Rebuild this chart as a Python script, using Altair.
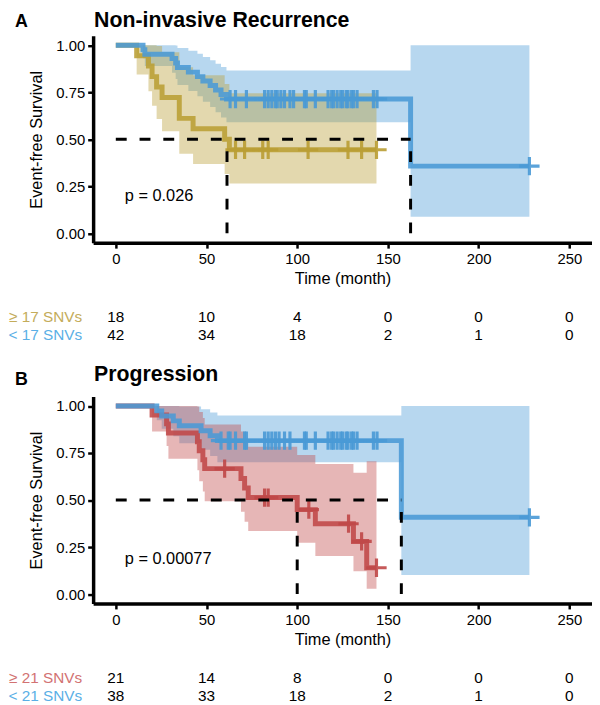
import altair as alt
import pandas as pd

FONT = "Liberation Sans"

# ---------------- Panel A : Non-invasive Recurrence ----------------
a_hi_time = [0, 11.5, 18, 20, 22.5, 25.5, 35, 42.6, 60, 62.6, 143.7]
a_hi_surv = [1.0, 0.944, 0.889, 0.833, 0.778, 0.722, 0.611, 0.556, 0.5, 0.444, 0.444]
a_hi_lower = [1.0, 0.844, 0.755, 0.678, 0.608, 0.542, 0.423, 0.368, 0.315, 0.265, 0.265]
a_hi_upper = [1.0, 1.0, 1.0, 1.0, 0.996, 0.962, 0.883, 0.840, 0.794, 0.745, 0.745]
a_hi_cens_time = [66, 71, 81, 84, 106, 128, 135.5, 143.7]
a_hi_cens_surv = [0.444, 0.444, 0.444, 0.444, 0.444, 0.444, 0.444, 0.444]

a_lo_time = [0, 15, 16, 31, 33, 34, 40, 45, 48, 52, 55, 58, 61, 162.5, 228]
a_lo_surv = [1.0, 0.976, 0.952, 0.929, 0.905, 0.881, 0.857, 0.833, 0.810, 0.786, 0.762, 0.738, 0.714, 0.357, 0.357]
a_lo_lower = [1.0, 0.931, 0.890, 0.854, 0.820, 0.788, 0.757, 0.728, 0.699, 0.671, 0.643, 0.616, 0.590, 0.088, 0.088]
a_lo_upper = [1.0, 1.0, 1.0, 1.0, 0.998, 0.985, 0.970, 0.954, 0.938, 0.920, 0.902, 0.884, 0.865, 1.0, 1.0]
a_lo_cens_time = [63, 66, 72, 82, 84, 86, 88, 89, 91, 93, 96, 98, 104, 105, 110, 117, 119, 120,
                  122, 124, 125, 127, 128, 130, 131, 133, 142, 144, 228]
a_lo_cens_surv = [0.714, 0.714, 0.714, 0.714, 0.714, 0.714, 0.714, 0.714, 0.714, 0.714, 0.714,
                  0.714, 0.714, 0.714, 0.714, 0.714, 0.714, 0.714, 0.714, 0.714, 0.714, 0.714,
                  0.714, 0.714, 0.714, 0.714, 0.714, 0.714, 0.357]
a_medians = [61.3, 162.5]
a_p = "p = 0.026"
a_title = "Non-invasive Recurrence"
a_labels = ["\u2265 17 SNVs", "< 17 SNVs"]
a_risk_hi = [18, 10, 4, 0, 0, 0]
a_risk_lo = [42, 34, 18, 2, 1, 0]

# ---------------- Panel B : Progression ----------------
b_hi_time = [0, 20, 28, 29, 45, 46, 48, 49, 69, 71, 73, 100, 110, 131, 138.3, 143.7]
b_hi_surv = [1.0, 0.952, 0.905, 0.857, 0.810, 0.762, 0.714, 0.667, 0.615, 0.564, 0.513, 0.449,
             0.374, 0.280, 0.140, 0.140]
b_hi_lower = [1.0, 0.865, 0.788, 0.720, 0.658, 0.600, 0.545, 0.493, 0.438, 0.385, 0.335, 0.273,
              0.203, 0.122, 0.028, 0.028]
b_hi_upper = [1.0, 1.0, 1.0, 1.0, 0.997, 0.968, 0.936, 0.902, 0.865, 0.826, 0.784, 0.739,
              0.691, 0.645, 0.706, 0.706]
b_hi_cens_time = [60, 82, 84, 106.4, 128.3, 135.5, 143.7]
b_hi_cens_surv = [0.667, 0.513, 0.513, 0.449, 0.374, 0.280, 0.140]

b_lo_time = [0, 22.6, 25.3, 31.7, 35, 47, 52, 56, 157.4, 228]
b_lo_surv = [1.0, 0.974, 0.947, 0.921, 0.895, 0.868, 0.842, 0.816, 0.408, 0.408]
b_lo_lower = [1.0, 0.924, 0.879, 0.839, 0.802, 0.767, 0.734, 0.701, 0.101, 0.101]
b_lo_upper = [1.0, 1.0, 1.0, 1.0, 0.998, 0.983, 0.966, 0.949, 1.0, 1.0]
b_lo_cens_time = [58, 62, 63, 66, 71, 72, 82, 84, 86, 88, 90, 93, 96, 104, 105, 110, 117, 119,
                  120, 122, 124, 125, 127, 128, 130, 131, 133, 142, 144, 228]
b_lo_cens_surv = [0.816, 0.816, 0.816, 0.816, 0.816, 0.816, 0.816, 0.816, 0.816, 0.816, 0.816,
                  0.816, 0.816, 0.816, 0.816, 0.816, 0.816, 0.816, 0.816, 0.816, 0.816, 0.816,
                  0.816, 0.816, 0.816, 0.816, 0.816, 0.816, 0.816, 0.408]
b_medians = [100, 157.4]
b_p = "p = 0.00077"
b_title = "Progression"
b_labels = ["\u2265 21 SNVs", "< 21 SNVs"]
b_risk_hi = [21, 14, 8, 0, 0, 0]
b_risk_lo = [38, 33, 18, 2, 1, 0]

risk_times = [0, 50, 100, 150, 200, 250]
x_ticks = [0, 50, 100, 150, 200, 250]
y_ticks = [0, 0.25, 0.5, 0.75, 1.0]

YELLOW = "#BA9E34"
BLUE = "#4A9AD6"
RED = "#C04848"
YELLOW_TXT = "#C4AC5A"
BLUE_TXT = "#5AAFE6"
RED_TXT = "#D27272"

W, H = 504, 209

xscale = alt.Scale(domain=[-12.5, 262.5], nice=False, zero=False)
yscale = alt.Scale(domain=[-0.05, 1.05], nice=False, zero=False)
xaxis = alt.Axis(values=x_ticks, title="Time (month)", labelPadding=3.5, titlePadding=4)
yaxis = alt.Axis(values=y_ticks, format=".2f", title="Event-free Survival",
                 labelPadding=3, titlePadding=11)


def X(field):
    return alt.X(field, type="quantitative", scale=xscale, axis=xaxis)


def Y(field):
    return alt.Y(field, type="quantitative", scale=yscale, axis=yaxis)


def panel(hi, lo, hi_c, lo_c, medians, title, title_y, letter, letter_y, p_text, p_y,
          labels, risk_hi, risk_lo, hi_color, hi_txt):
    d_hi = pd.DataFrame({"time": hi[0], "surv": hi[1], "lower": hi[2], "upper": hi[3]})
    d_lo = pd.DataFrame({"time": lo[0], "surv": lo[1], "lower": lo[2], "upper": lo[3]})
    c_hi = pd.DataFrame({"time": hi_c[0], "surv": hi_c[1]})
    c_lo = pd.DataFrame({"time": lo_c[0], "surv": lo_c[1]})

    layers = []
    for d, col in [(d_lo, BLUE), (d_hi, hi_color)]:
        layers.append(alt.Chart(d).mark_area(interpolate="step-after", opacity=0.4, color=col)
                      .encode(x=X("time"), y=Y("lower"), y2="upper:Q"))
    for d, col in [(d_hi, hi_color), (d_lo, BLUE)]:
        layers.append(alt.Chart(d).mark_line(interpolate="step-after", strokeWidth=5,
                                             opacity=0.88, color=col)
                      .encode(x=X("time"), y=Y("surv")))
    for d, col in [(c_hi, hi_color), (c_lo, BLUE)]:
        layers.append(alt.Chart(d).mark_point(shape="M-1,0H1M0,-0.9V0.9", size=420,
                                              filled=False, strokeWidth=3.2, opacity=0.9,
                                              color=col)
                      .encode(x=X("time"), y=Y("surv")))

    # median lines
    hline = pd.DataFrame({"x0": [0], "x1": [max(medians)], "y": [0.5]})
    vline = pd.DataFrame({"med": medians, "y0": [0, 0], "y1": [0.5, 0.5]})
    layers.append(alt.Chart(hline).mark_rule(strokeDash=[11, 13], strokeWidth=3, color="black")
                  .encode(x=X("x0"), x2="x1:Q", y=Y("y")))
    layers.append(alt.Chart(vline).mark_rule(strokeDash=[11, 13], strokeWidth=3, color="black")
                  .encode(x=X("med"), y=Y("y0"), y2="y1:Q"))

    # texts
    def txt(s, x, y, **kw):
        return alt.Chart(pd.DataFrame({"s": [s]})).mark_text(font=FONT, **kw).encode(
            x=alt.value(x), y=alt.value(y), text="s:N")

    layers.append(txt(title, 1, title_y, fontSize=21.5, fontWeight="bold", align="left",
                      baseline="alphabetic", color="black"))
    layers.append(txt(letter, -79, letter_y, fontSize=18, fontWeight="bold", align="left",
                      baseline="alphabetic", color="black"))
    layers.append(txt(p_text, 32, p_y, fontSize=16.5, align="left", baseline="alphabetic",
                      color="black"))

    # risk table
    for row_y, counts, lab, col in [(284.5, risk_hi, labels[0], hi_txt),
                                     (302.5, risk_lo, labels[1], BLUE_TXT)]:
        rd = pd.DataFrame({"time": risk_times, "n": counts})
        layers.append(alt.Chart(rd).mark_text(font=FONT, fontSize=15.5, baseline="middle",
                                              align="center", color="black")
                      .encode(x=X("time"), y=alt.value(row_y), text="n:Q"))
        layers.append(txt(lab, -11, row_y, fontSize=15.5, align="right", baseline="middle",
                          color=col))

    return alt.layer(*layers).properties(width=W, height=H)


pA = panel((a_hi_time, a_hi_surv, a_hi_lower, a_hi_upper),
           (a_lo_time, a_lo_surv, a_lo_lower, a_lo_upper),
           (a_hi_cens_time, a_hi_cens_surv), (a_lo_cens_time, a_lo_cens_surv),
           a_medians, a_title, -9, "A", -8.5, a_p, 166.5, a_labels, a_risk_hi, a_risk_lo,
           YELLOW, YELLOW_TXT)
pB = panel((b_hi_time, b_hi_surv, b_hi_lower, b_hi_upper),
           (b_lo_time, b_lo_surv, b_lo_lower, b_lo_upper),
           (b_hi_cens_time, b_hi_cens_surv), (b_lo_cens_time, b_lo_cens_surv),
           b_medians, b_title, -15.8, "B", -11.5, b_p, 169.5, b_labels, b_risk_hi, b_risk_lo,
           RED, RED_TXT)

chart = (alt.vconcat(pA, pB, spacing=20.5)
         .properties(padding={"left": 0, "top": -1.5, "right": 0, "bottom": 0},
                     background="white")
         .configure_view(stroke=None)
         .configure_axis(grid=False, domainColor="black", domainWidth=3.5, tickColor="black",
                         tickWidth=2.5, tickSize=5.5, labelFont=FONT, labelFontSize=15,
                         labelColor="black", titleFont=FONT, titleFontSize=16.5,
                         titleFontWeight="normal", titleColor="black"))

chart.save("out.html", embed_options={"renderer": "svg", "actions": False})
